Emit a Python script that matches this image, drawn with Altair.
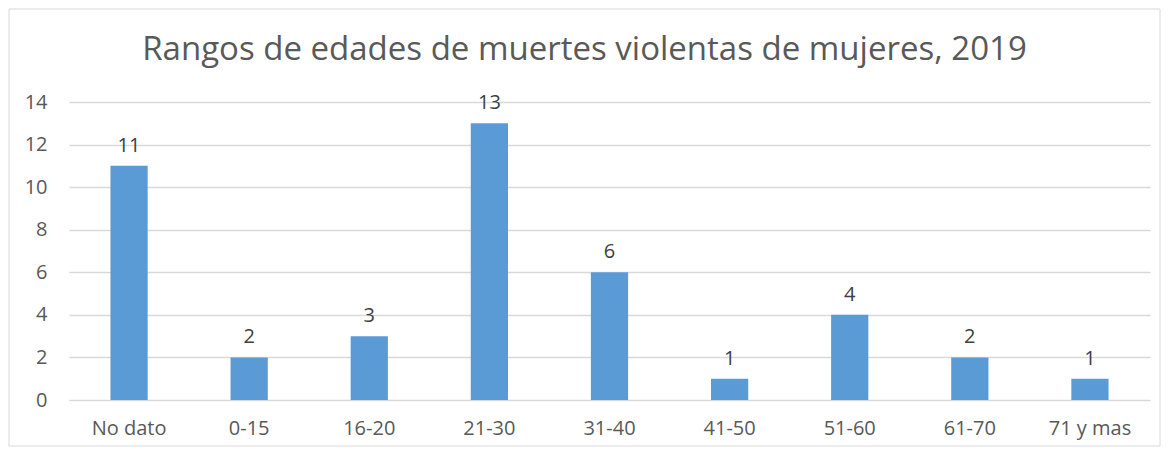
import altair as alt
import pandas as pd

categories = ["No dato", "0-15", "16-20", "21-30", "31-40", "41-50", "51-60", "61-70", "71 y mas"]
values = [11, 2, 3, 13, 6, 1, 4, 2, 1]

df = pd.DataFrame({"rango": categories, "muertes": values})

W, H = 1081, 298
FONT = "Open Sans"
GREY = "#595959"

x = alt.X("rango:N", sort=categories, title=None,
          scale=alt.Scale(paddingInner=0.69, paddingOuter=0.345),
          axis=alt.Axis(labelAngle=0, labelFontSize=20, labelColor=GREY, labelFont=FONT,
                        labelPadding=18, ticks=False, domain=False, grid=False))
y = alt.Y("muertes:Q", title=None,
          scale=alt.Scale(domain=[0, 14]),
          axis=alt.Axis(values=[0, 2, 4, 6, 8, 10, 12, 14], labelFontSize=20, labelColor=GREY,
                        labelFont=FONT, labelPadding=22, ticks=False, domain=False,
                        gridColor="#D9D9D9", gridWidth=1.3))

base = alt.Chart(df)
bars = base.mark_bar(color="#5B9BD5").encode(x=x, y=y)
labels = base.mark_text(baseline="bottom", dy=-10, fontSize=20, font=FONT, color="#404040").encode(
    x=alt.X("rango:N", sort=categories), y="muertes:Q", text="muertes:Q")

border = alt.Chart(pd.DataFrame({"a": [0]})).mark_rect(fill=None, stroke="#D9D9D9", strokeWidth=1).encode(
    x=alt.value(-60), x2=alt.value(W + 10), y=alt.value(-93), y2=alt.value(H + 46))

chart = alt.layer(border, bars, labels).properties(
    width=W, height=H,
    autosize=alt.AutoSizeParams(type="none"),
    padding={"left": 61, "top": 94, "right": 11, "bottom": 48},
    title=alt.TitleParams("Rangos de edades de muertes violentas de mujeres, 2019",
                          fontSize=33, font=FONT, fontWeight="normal", color=GREY,
                          anchor="middle", frame="bounds", offset=0, dy=58),
).configure_view(stroke=None)

chart.save("out.html", embed_options={"renderer": "svg", "actions": False})
